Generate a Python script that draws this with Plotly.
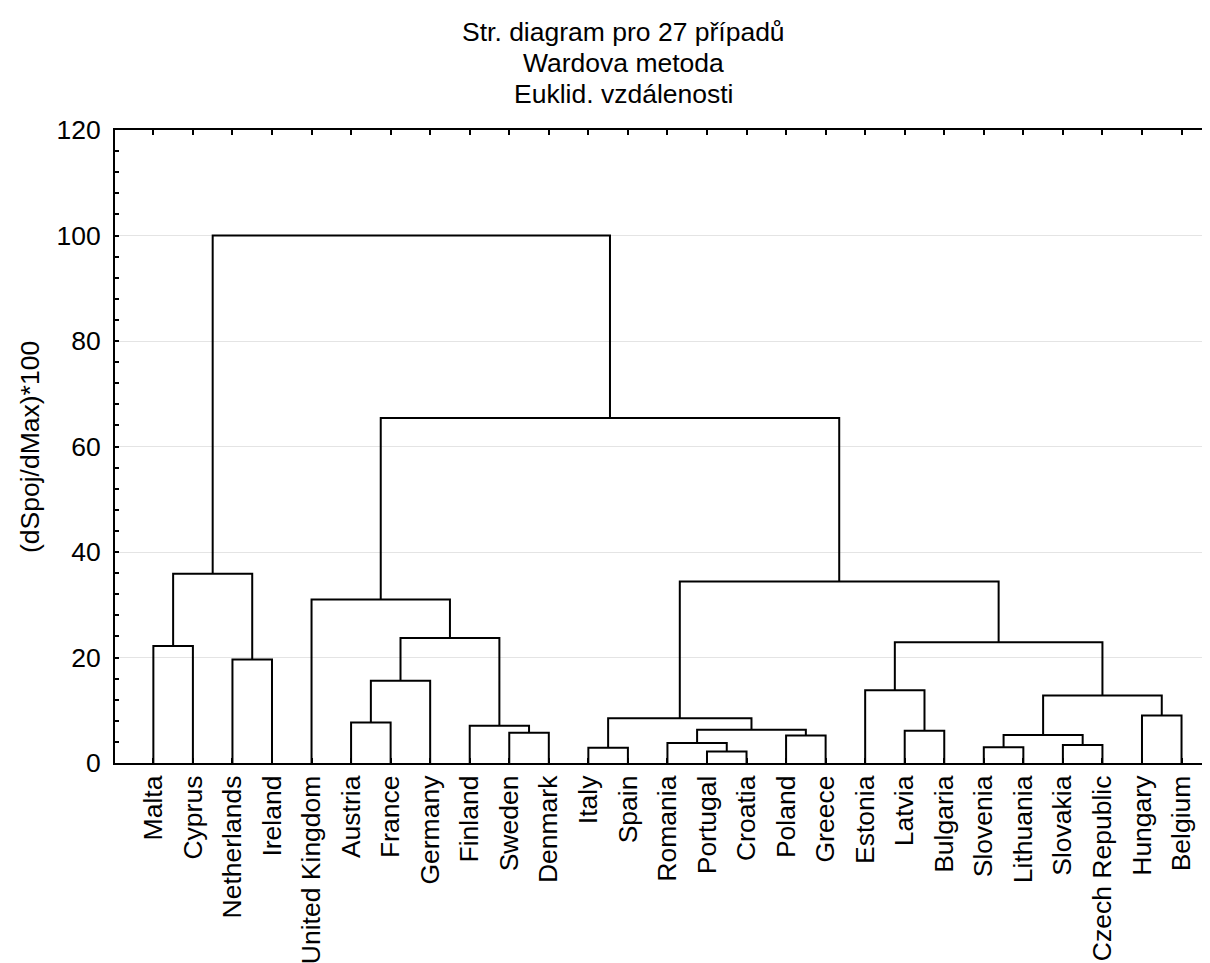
import plotly.graph_objects as go

labels = ["Malta", "Cyprus", "Netherlands", "Ireland", "United Kingdom", "Austria",
          "France", "Germany", "Finland", "Sweden", "Denmark", "Italy", "Spain",
          "Romania", "Portugal", "Croatia", "Poland", "Greece", "Estonia", "Latvia",
          "Bulgaria", "Slovenia", "Lithuania", "Slovakia", "Czech Republic",
          "Hungary", "Belgium"]

# linkage: node ids 0..26 are leaves, merge k creates node 27+k
merge_left = [14, 11, 21, 23, 13, 16, 29, 9, 19, 31, 8, 5, 28, 25, 33, 18, 38, 2, 0, 42, 43, 4, 39, 45, 48, 50]
merge_right = [15, 12, 22, 24, 27, 17, 30, 10, 20, 32, 34, 6, 36, 26, 40, 35, 7, 3, 1, 41, 37, 47, 46, 44, 49, 51]
merge_height = [2.2, 2.9, 3.0, 3.4, 3.8, 5.2, 5.3, 5.75, 6.1, 6.3, 7.05, 7.7, 8.5, 9.0,
                12.8, 13.8, 15.6, 19.6, 22.2, 22.9, 23.7, 31.0, 34.4, 35.9, 65.4, 100.0]

title_lines = ["Str. diagram pro 27 případů", "Wardova metoda", "Euklid. vzdálenosti"]
y_title = "(dSpoj/dMax)*100"

n = len(labels)
xpos = {i: i + 1 for i in range(n)}
ypos = {i: 0.0 for i in range(n)}
xs, ys = [], []
for k, (a, b, h) in enumerate(zip(merge_left, merge_right, merge_height)):
    xa, xb = xpos[a], xpos[b]
    xs += [xa, xa, xb, xb, None]
    ys += [ypos[a], h, h, ypos[b], None]
    xpos[n + k] = (xa + xb) / 2
    ypos[n + k] = h

FONT = "Liberation Sans, Arial, sans-serif"
FS = 26.5

fig = go.Figure()
fig.add_trace(go.Scatter(x=xs, y=ys, mode="lines",
                         line=dict(color="black", width=2),
                         hoverinfo="skip", showlegend=False))

# page has an 8px body margin; figure sized so the plot lands at the reference position
fig.update_layout(
    width=1202, height=955,
    margin=dict(l=107, r=0, t=122, b=200),
    plot_bgcolor="white", paper_bgcolor="white",
    font=dict(family=FONT, size=FS, color="black"),
    showlegend=False,
)

fig.update_xaxes(
    range=[0.03, 27.72],
    tickmode="array", tickvals=list(range(1, n + 1)), ticktext=labels,
    tickangle=-90, ticks="inside", ticklen=5, tickwidth=1.5, tickcolor="black",
    showline=True, linecolor="black", linewidth=2, mirror="ticks",
    showgrid=False, zeroline=False,
    tickfont=dict(family=FONT, size=FS, color="black"),
)
fig.update_yaxes(
    range=[0, 120], dtick=20, ticks="inside", ticklen=4, tickwidth=1.5, tickcolor="black",
    minor=dict(dtick=4, ticks="inside", ticklen=4, tickwidth=1.5, tickcolor="black", showgrid=False),
    showline=True, linecolor="black", linewidth=2, mirror=False,
    showgrid=True, gridcolor="#e4e4e4", gridwidth=1, zeroline=False,
    ticklabelstandoff=7,
    tickfont=dict(family=FONT, size=FS, color="black"),
)

for i, t in enumerate(title_lines):
    fig.add_annotation(text=t, xref="paper", yref="paper",
                       x=(623 - 115) / 1095, y=(763 - (32 + 31 * i)) / 633,
                       xanchor="center", yanchor="middle", showarrow=False,
                       font=dict(family=FONT, size=FS, color="black"))

fig.add_annotation(text=y_title, xref="paper", yref="paper",
                   x=(30 - 115) / 1095, y=(763 - 447) / 633, textangle=-90,
                   xanchor="center", yanchor="middle", showarrow=False,
                   font=dict(family=FONT, size=FS, color="black"))

fig.write_html("out.html")
